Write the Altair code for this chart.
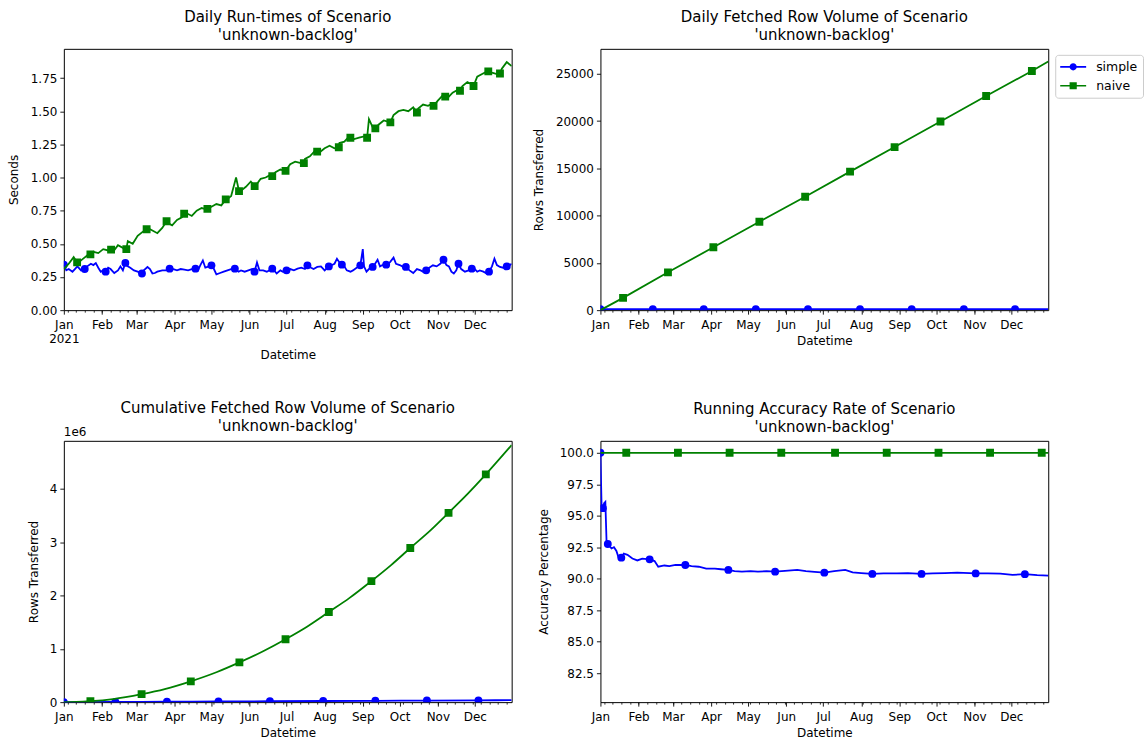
import altair as alt
import pandas as pd

START = pd.Timestamp("2021-01-01")
BLUE = "#0000ff"
GREEN = "#008000"
FONT = "DejaVu Sans"

# ---------------- Panel 1: daily run-times (seconds) ----------------
rt_simple_line_days = [2, 4, 7, 9, 11, 14, 19, 22, 24, 26,
                       28, 30, 32, 36, 38, 41, 44, 46, 48, 52,
                       54, 57, 60, 65, 68, 70, 72, 74, 76, 80,
                       83, 89, 92, 95, 98, 101, 104, 109, 111, 113,
                       115, 118, 122, 124, 127, 130, 133, 136, 142, 144,
                       147, 150, 153, 157, 159, 162, 165, 171, 173, 176,
                       178, 184, 187, 190, 193, 196, 201, 203, 206, 209,
                       212, 218, 220, 222, 224, 228, 230, 233, 235, 238,
                       243, 244, 246, 248, 253, 255, 257, 259, 265, 268,
                       270, 273, 275, 281, 284, 287, 290, 292, 297, 300,
                       303, 306, 311, 313, 315, 317, 319, 323, 326, 329,
                       334, 336, 338, 341, 343, 348, 350, 352, 354.5, 357,
                       362, 364]
rt_simple_line_vals = [0.30, 0.31, 0.29, 0.31, 0.33, 0.30, 0.33, 0.35, 0.34, 0.355,
                       0.32, 0.29, 0.30, 0.32, 0.31, 0.28, 0.30, 0.33, 0.30, 0.33,
                       0.32, 0.30, 0.29, 0.30, 0.325, 0.31, 0.276, 0.28, 0.29, 0.30,
                       0.30, 0.31, 0.30, 0.31, 0.305, 0.30, 0.31, 0.30, 0.34, 0.375,
                       0.32, 0.33, 0.31, 0.27, 0.28, 0.29, 0.30, 0.31, 0.29, 0.30,
                       0.29, 0.30, 0.31, 0.36, 0.30, 0.30, 0.29, 0.30, 0.276, 0.30,
                       0.29, 0.31, 0.30, 0.313, 0.32, 0.31, 0.32, 0.31, 0.326, 0.33,
                       0.30, 0.34, 0.35, 0.388, 0.36, 0.33, 0.30, 0.29, 0.30, 0.32,
                       0.46, 0.33, 0.29, 0.31, 0.35, 0.38, 0.33, 0.34, 0.36, 0.396,
                       0.35, 0.34, 0.33, 0.30, 0.28, 0.31, 0.30, 0.29, 0.32, 0.338,
                       0.33, 0.35, 0.34, 0.33, 0.29, 0.276, 0.30, 0.31, 0.29, 0.30,
                       0.31, 0.29, 0.30, 0.29, 0.28, 0.33, 0.388, 0.34, 0.326, 0.32,
                       0.335, 0.35]
rt_simple_mark_days = [0, 17, 34, 50, 63.5, 86, 107, 120, 139, 155, 169.4, 181, 198,
                       215.4, 226, 241, 251, 262, 278, 294.5, 308.6, 320.8, 331.6, 345.6, 360]
rt_simple_mark_vals = [0.343, 0.31, 0.29, 0.356, 0.276, 0.313, 0.313, 0.338, 0.313, 0.29, 0.313,
                       0.30, 0.338, 0.33, 0.343, 0.338, 0.326, 0.343, 0.326, 0.30, 0.38, 0.35,
                       0.313, 0.29, 0.33]

rt_naive_line_days = list(range(0, 365, 4))
rt_naive_line_vals = [0.31, 0.35, 0.40, 0.36, 0.39, 0.42, 0.44, 0.43, 0.46, 0.45,
                      0.44, 0.49, 0.47, 0.52, 0.50, 0.56, 0.59, 0.62, 0.60, 0.58,
                      0.62, 0.66, 0.64, 0.68, 0.70, 0.73, 0.71, 0.75, 0.77, 0.76,
                      0.78, 0.80, 0.79, 0.83, 0.86, 1.00, 0.90, 0.93, 0.97, 0.94,
                      0.99, 1.00, 1.02, 1.04, 1.06, 1.05, 1.10, 1.12, 1.11, 1.14,
                      1.16, 1.20, 1.19, 1.22, 1.24, 1.22, 1.26, 1.27, 1.31, 1.29,
                      1.30, 1.31, 1.44, 1.36, 1.40, 1.43, 1.42, 1.47, 1.50, 1.51,
                      1.50, 1.53, 1.52, 1.55, 1.54, 1.56, 1.58, 1.62, 1.60, 1.64,
                      1.66, 1.69, 1.72, 1.70, 1.76, 1.78, 1.80, 1.79, 1.78, 1.82,
                      1.87, 1.84]
rt_naive_mark_days = [10.8, 21.6, 38.4, 50.8, 67.3, 83.5, 97.8, 116.7, 131.6, 142.4, 155.1,
                      169.4, 180.2, 195.1, 205.9, 223.5, 232.9, 246.5, 253.2, 265.4, 287,
                      300.5, 310, 322, 333, 345, 354.5]
rt_naive_mark_vals = [0.36, 0.42, 0.456, 0.46, 0.61, 0.67, 0.727, 0.764, 0.835, 0.897, 0.935,
                      1.01, 1.05, 1.108, 1.195, 1.228, 1.30, 1.30, 1.37, 1.416, 1.49,
                      1.54, 1.61, 1.654, 1.69, 1.80, 1.784]

# ---------------- Panel 2: daily fetched rows ----------------
fr_simple_line_days = [0, 364]
fr_simple_line_vals = [100, 100]
fr_simple_mark_days = [0, 42.6, 84, 126.3, 168.7, 211, 253, 295.4, 337]
fr_simple_mark_vals = [100, 100, 100, 100, 100, 100, 100, 100, 100]
fr_naive_line_days = [0, 364]
fr_naive_line_vals = [0, 26300]
fr_naive_mark_days = [18.4, 54.9, 91.8, 129.2, 166.4, 202.9, 239.1, 276.4, 313.5, 350.7]
fr_naive_mark_vals = [1300, 4000, 6650, 9350, 12000, 14650, 17250, 19950, 22650, 25300]

# ---------------- Panel 3: cumulative fetched rows ----------------
cum_simple_line_days = [0, 364]
cum_simple_line_vals = [100, 36500]
cum_simple_mark_days = [0, 41.9, 83.8, 125.7, 167.5, 210.8, 253.2, 295.1, 337]
cum_simple_mark_vals = [100, 4300, 8500, 12700, 16900, 21200, 25400, 29600, 33800]
cum_naive_line_days = [0, 10, 40, 82, 124, 162, 198, 232, 266, 298, 328, 364]
cum_naive_line_vals = [0, 4000, 58000, 245000, 560000, 955000, 1420000, 1950000,
                       2570000, 3220000, 3900000, 4820000]
cum_naive_mark_days = [21.6, 63.2, 103.2, 142.7, 180.2, 215.4, 250, 281.6, 312.7, 343]
cum_naive_mark_vals = [18000, 150000, 390000, 745000, 1180000, 1690000, 2270000,
                       2890000, 3550000, 4270000]

# ---------------- Panel 4: running accuracy (%) ----------------
acc_simple_line_days = [1, 3, 4, 5, 9, 11, 13, 15, 19, 22,
                        26, 30, 34, 44, 47, 52, 56, 61, 74, 80,
                        86, 93, 98, 109, 115, 122, 128, 135, 150, 160,
                        167, 174, 190, 199, 205, 212, 230, 241, 250, 270,
                        280, 290, 315, 325, 335, 355, 364]
acc_simple_line_vals = [95.5, 96.0, 96.1, 92.9, 92.4, 92.5, 92.2, 91.6, 92.0, 91.9,
                        91.6, 91.45, 91.6, 91.4, 90.95, 91.05, 91.0, 91.1, 91.0, 90.95,
                        90.8, 90.8, 90.75, 90.6, 90.56, 90.6, 90.56, 90.6, 90.62, 90.7,
                        90.6, 90.55, 90.6, 90.7, 90.5, 90.45, 90.42, 90.43, 90.45, 90.42,
                        90.45, 90.48, 90.43, 90.4, 90.3, 90.28, 90.25]
acc_simple_mark_days = [0, 2, 6, 17, 40, 69, 104, 142, 182, 221, 261, 305, 345]
acc_simple_mark_vals = [100.0, 95.6, 92.76, 91.67, 91.54, 91.09, 90.7, 90.56, 90.48,
                        90.38, 90.38, 90.42, 90.36]
acc_naive_line_days = [0, 364]
acc_naive_line_vals = [100.0, 100.0]
acc_naive_mark_days = [21, 63, 105, 147, 190.7, 232.7, 274.8, 316.7, 358.7]
acc_naive_mark_vals = [100.0, 100.0, 100.0, 100.0, 100.0, 100.0, 100.0, 100.0, 100.0]

series_names = ["simple", "naive"]
month_ticks = [alt.DateTime(year=2021, month=m, date=1) for m in range(1, 13)]
week_ticks = [alt.DateTime(year=2021, month=d.month, date=d.day)
              for d in pd.date_range("2021-01-04", "2021-12-27", freq="7D")]

X_SCALE = alt.Scale(domain=[alt.DateTime(year=2021, month=1, date=1),
                            alt.DateTime(year=2021, month=12, date=31)], nice=False)

LINE_W = 1.8
MARK_SIZE = 62


def frame(days, vals):
    d = pd.DataFrame({"day": list(days), "value": list(vals)})
    d["date"] = START + pd.to_timedelta(d["day"], unit="D")
    return d.sort_values("day").reset_index(drop=True)


def line_frame(ld, lv, md, mv):
    return frame(list(ld) + list(md), list(lv) + list(mv))


def major_axis(two_line_first=False):
    kw = dict(values=month_ticks, title="Datetime", orient="bottom", tickSize=4,
              tickWidth=0.9, labelPadding=5, titlePadding=5, labelFlush=False,
              labelOverlap=False, grid=False, domain=False)
    if two_line_first:
        kw["labelExpr"] = ("month(datum.value) == 0 ? ['Jan', '2021'] : "
                           "timeFormat(datum.value, '%b')")
        kw["labelLineHeight"] = 14
    else:
        kw["format"] = "%b"
    return alt.Axis(**kw)


MINOR_AXIS = alt.Axis(values=week_ticks, labels=False, title=None, orient="bottom",
                      tickSize=2, tickWidth=0.8, grid=False, domain=False)


def y_axis(title, values, title_x, fmt=None, label_expr=None):
    kw = dict(title=title, values=values, tickSize=4, tickWidth=0.9, labelPadding=3,
              grid=False, domain=False, labelOverlap=False, labelFlush=False,
              titleX=title_x, titleBaseline="middle")
    if fmt:
        kw["format"] = fmt
    if label_expr:
        kw["labelExpr"] = label_expr
    return alt.Axis(**kw)


def panel(title, ydomain, yaxis, xmajor, s_line, s_mark, n_line, n_mark,
          interp="linear", extra=None, title_offset=6):
    yscale = alt.Scale(domain=ydomain, nice=False, zero=False)
    y_enc = alt.Y("value:Q", scale=yscale, axis=yaxis)

    def xe(ax):
        return alt.X("date:T", scale=X_SCALE, axis=ax)

    l1 = alt.Chart(s_line).mark_line(color=BLUE, strokeWidth=LINE_W, clip=True,
                                     interpolate=interp).encode(x=xe(xmajor), y=y_enc)
    m1 = alt.Chart(s_mark).mark_point(shape="circle", filled=True, size=MARK_SIZE, color=BLUE,
                                      opacity=1, clip=True).encode(x=xe(None), y=y_enc)
    l2 = alt.Chart(n_line).mark_line(color=GREEN, strokeWidth=LINE_W, clip=True,
                                     interpolate=interp).encode(x=xe(MINOR_AXIS), y=y_enc)
    m2 = alt.Chart(n_mark).mark_point(shape="square", filled=True, size=MARK_SIZE, color=GREEN,
                                      opacity=1, clip=True).encode(x=xe(None), y=y_enc)
    layers = [l1, m1, l2, m2] + (extra or [])
    return alt.layer(*layers, title=alt.TitleParams(
        text=title, fontSize=15, font=FONT, fontWeight="normal", color="black",
        lineHeight=18, offset=title_offset, anchor="middle")
    ).resolve_axis(x="independent").properties(width=449, height=262)


# legend (line + marker symbols)
P_SIMPLE = ("M-1,-0.12H2.714V0.12H-1Z "
            "M1.371,0A0.514,0.514 0 1,1 0.343,0A0.514,0.514 0 1,1 1.371,0Z")
P_NAIVE = ("M-1,-0.12H2.714V0.12H-1Z "
           "M0.343,-0.5H1.371V0.5H0.343Z")
LEG = alt.Legend(title=None, orient="none", legendX=456, legendY=6, symbolSize=196,
                 symbolStrokeWidth=0, symbolOpacity=1, labelFontSize=12.5, labelFont=FONT,
                 labelColor="black", labelOffset=22, padding=5, rowPadding=5,
                 fillColor="white", strokeColor="#cccccc", cornerRadius=3)
legend_layer = alt.Chart(pd.DataFrame({"series": series_names})).mark_point(
    filled=True, opacity=1
).encode(
    color=alt.Color("series:N", scale=alt.Scale(domain=series_names, range=[BLUE, GREEN]),
                    legend=LEG),
    shape=alt.Shape("series:N", scale=alt.Scale(domain=series_names,
                                                range=[P_SIMPLE, P_NAIVE]), legend=LEG),
).transform_filter("false")

offset_text = alt.Chart(pd.DataFrame({"label": ["1e6"]})).mark_text(
    align="left", baseline="bottom", fontSize=12, font=FONT, color="black"
).encode(x=alt.value(0), y=alt.value(-2), text="label:N")

p1 = panel(["Daily Run-times of Scenario", "'unknown-backlog'"], [0, 1.97],
           y_axis("Seconds", [0, 0.25, 0.5, 0.75, 1.0, 1.25, 1.5, 1.75], -50, fmt=".2f"),
           major_axis(True),
           line_frame(rt_simple_line_days, rt_simple_line_vals, rt_simple_mark_days, rt_simple_mark_vals),
           frame(rt_simple_mark_days, rt_simple_mark_vals),
           line_frame(rt_naive_line_days, rt_naive_line_vals, rt_naive_mark_days, rt_naive_mark_vals),
           frame(rt_naive_mark_days, rt_naive_mark_vals))

p2 = panel(["Daily Fetched Row Volume of Scenario", "'unknown-backlog'"], [0, 27640],
           y_axis("Rows Transferred", [0, 5000, 10000, 15000, 20000, 25000], -62, fmt="d"),
           major_axis(False),
           line_frame(fr_simple_line_days, fr_simple_line_vals, fr_simple_mark_days, fr_simple_mark_vals),
           frame(fr_simple_mark_days, fr_simple_mark_vals),
           line_frame(fr_naive_line_days, fr_naive_line_vals, fr_naive_mark_days, fr_naive_mark_vals),
           frame(fr_naive_mark_days, fr_naive_mark_vals),
           extra=[legend_layer])

p3 = panel(["Cumulative Fetched Row Volume of Scenario", "'unknown-backlog'"], [0, 4.9e6],
           y_axis("Rows Transferred", [0, 1e6, 2e6, 3e6, 4e6], -30,
                  label_expr="format(datum.value / 1000000, 'd')"),
           major_axis(False),
           line_frame(cum_simple_line_days, cum_simple_line_vals, cum_simple_mark_days, cum_simple_mark_vals),
           frame(cum_simple_mark_days, cum_simple_mark_vals),
           line_frame(cum_naive_line_days, cum_naive_line_vals, cum_naive_mark_days, cum_naive_mark_vals),
           frame(cum_naive_mark_days, cum_naive_mark_vals),
           interp="monotone", extra=[offset_text], title_offset=-8)

p4 = panel(["Running Accuracy Rate of Scenario", "'unknown-backlog'"], [80.2, 100.95],
           y_axis("Accuracy Percentage", [82.5, 85.0, 87.5, 90.0, 92.5, 95.0, 97.5, 100.0], -57,
                  fmt=".1f"),
           major_axis(False),
           line_frame(acc_simple_line_days, acc_simple_line_vals, acc_simple_mark_days, acc_simple_mark_vals),
           frame(acc_simple_mark_days, acc_simple_mark_vals),
           line_frame(acc_naive_line_days, acc_naive_line_vals, acc_naive_mark_days, acc_naive_mark_vals),
           frame(acc_naive_mark_days, acc_naive_mark_vals))

chart = alt.concat(
    p1, p2, p3, p4, columns=2, spacing={"row": 131, "column": 89}, bounds="flush"
).resolve_scale(
    color="independent", shape="independent"
).properties(
    padding={"left": 7, "top": 8, "right": 0, "bottom": 0}
).configure_axis(
    labelFont=FONT, titleFont=FONT, labelFontSize=12, titleFontSize=12,
    labelColor="black", titleColor="black", tickColor="black", titleFontWeight="normal"
).configure_view(stroke="black", strokeWidth=1)

chart.save("out.html", embed_options={"renderer": "svg", "actions": False})
